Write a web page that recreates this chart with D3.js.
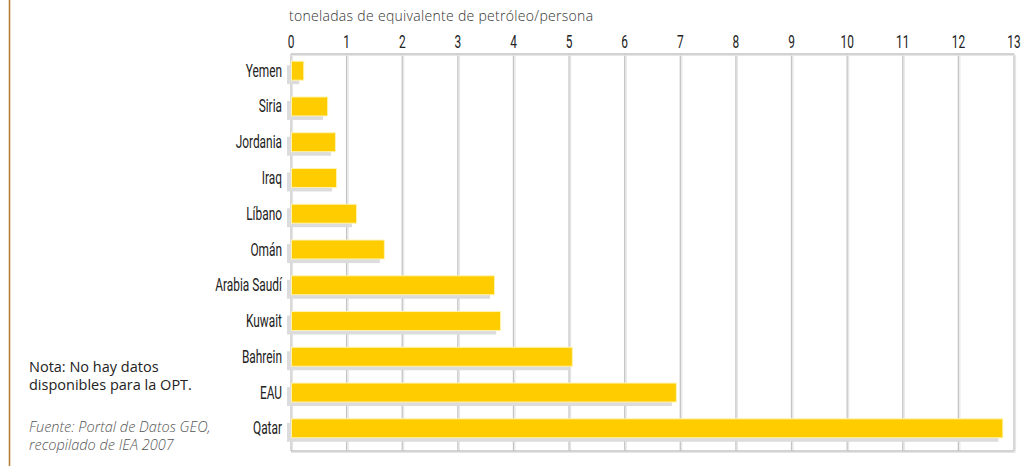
<!DOCTYPE html>
<html>
<head>
<meta charset="utf-8">
<script src="https://cdn.jsdelivr.net/npm/d3@7"></script>
<style>
  body { margin: 0; background: #fff; }
  svg { display: block; }
  .cond { font-family: Roboto, "Liberation Sans", sans-serif; }
  .light { font-family: "Open Sans", Lato, sans-serif; }
</style>
</head>
<body>
<svg width="1034" height="466"></svg>
<script>
const countries = ["Yemen", "Siria", "Jordania", "Iraq", "Líbano", "Omán",
  "Arabia Saudí", "Kuwait", "Bahrein", "EAU", "Qatar"];
const toe = [0.22, 0.65, 0.79, 0.81, 1.17, 1.67, 3.65, 3.76, 5.05, 6.92, 12.79];
const ticks = d3.range(0, 14);
const axisTitle = "toneladas de equivalente de petróleo/persona";
const note = ["Nota: No hay datos", "disponibles para la OPT."];
const source = ["Fuente: Portal de Datos GEO,", "recopilado de IEA 2007"];

const svg = d3.select("svg");

const x = d3.scaleLinear([0, 13], [291, 1014]);
const y = d3.scaleBand(countries, [53, 446]).paddingInner(0.47).paddingOuter(0.23);
const gTop = 54, gBot = 451;
const squeeze = 0.66;

// left brown rule
svg.append("line").attr("x1", 9.5).attr("x2", 9.5).attr("y1", 0).attr("y2", 466)
  .attr("stroke", "#b57a2e").attr("stroke-width", 1.5);

// grid: shadow then line
const grid = svg.append("g");
grid.selectAll("line.sh").data(ticks).join("line").attr("class", "sh")
  .attr("x1", d => x(d) + 1.5).attr("x2", d => x(d) + 1.5)
  .attr("y1", gTop + 1).attr("y2", gBot + 1)
  .attr("stroke", "#e6e6e6").attr("stroke-width", 1.2);
grid.selectAll("line.gl").data(ticks).join("line").attr("class", "gl")
  .attr("x1", d => x(d)).attr("x2", d => x(d))
  .attr("y1", gTop).attr("y2", gBot)
  .attr("stroke", "#c4c4c4").attr("stroke-width", 1.3);
grid.append("line").attr("x1", x(0)).attr("x2", x(13) + 1.5)
  .attr("y1", gTop + 1.5).attr("y2", gTop + 1.5).attr("stroke", "#e6e6e6").attr("stroke-width", 1.2);
[gTop, gBot].forEach(yy => grid.append("line").attr("x1", x(0)).attr("x2", x(13))
  .attr("y1", yy).attr("y2", yy).attr("stroke", "#c4c4c4").attr("stroke-width", 1.3));
grid.append("line").attr("x1", x(0)).attr("x2", x(13) + 1.5)
  .attr("y1", gBot + 1.5).attr("y2", gBot + 1.5).attr("stroke", "#e6e6e6").attr("stroke-width", 1.2);

// tick labels (condensed by horizontal squeeze)
svg.append("g").selectAll("text").data(ticks).join("text")
  .attr("class", "cond")
  .attr("transform", d => `translate(${x(d)},48) scale(${squeeze},1)`)
  .attr("text-anchor", "middle")
  .attr("font-size", 18).attr("fill", "#222")
  .text(d => d);

svg.append("text").attr("class", "light").attr("x", 289).attr("y", 21)
  .attr("font-weight", 300).attr("letter-spacing", 0.3)
  .attr("font-size", 14).attr("fill", "#333")
  .text(axisTitle);

// bars
const rows = countries.map((c, i) => ({ c, v: toe[i] }));
const bars = svg.append("g");
bars.selectAll("rect.shadow").data(rows).join("rect").attr("class", "shadow")
  .attr("x", x(0) - 4).attr("y", d => y(d.c) + 4)
  .attr("width", d => x(d.v) - x(0)).attr("height", y.bandwidth())
  .attr("fill", "#dcdcdc");
bars.selectAll("rect.bar").data(rows).join("rect").attr("class", "bar")
  .attr("x", x(0) + 0.5).attr("y", d => y(d.c))
  .attr("width", d => x(d.v) - x(0)).attr("height", y.bandwidth())
  .attr("fill", "#ffcc00").attr("stroke", "#fff3b0").attr("stroke-width", 1);

// category labels
svg.append("g").selectAll("text").data(countries).join("text")
  .attr("class", "cond")
  .attr("transform", d => `translate(282,${y(d) + y.bandwidth() / 2 + 6}) scale(${squeeze},1)`)
  .attr("text-anchor", "end")
  .attr("font-size", 18).attr("fill", "#222")
  .text(d => d);

// notes
svg.append("g").selectAll("text").data(note).join("text")
  .attr("class", "light")
  .attr("x", 29).attr("y", (d, i) => 372 + i * 18)
  .attr("font-size", 14.5).attr("fill", "#222").text(d => d);
svg.append("g").selectAll("text").data(source).join("text")
  .attr("class", "light")
  .attr("x", 29).attr("y", (d, i) => 432 + i * 18)
  .attr("font-style", "italic").attr("font-weight", 300)
  .attr("font-size", 14.5).attr("fill", "#555").text(d => d);
</script>
</body>
</html>
